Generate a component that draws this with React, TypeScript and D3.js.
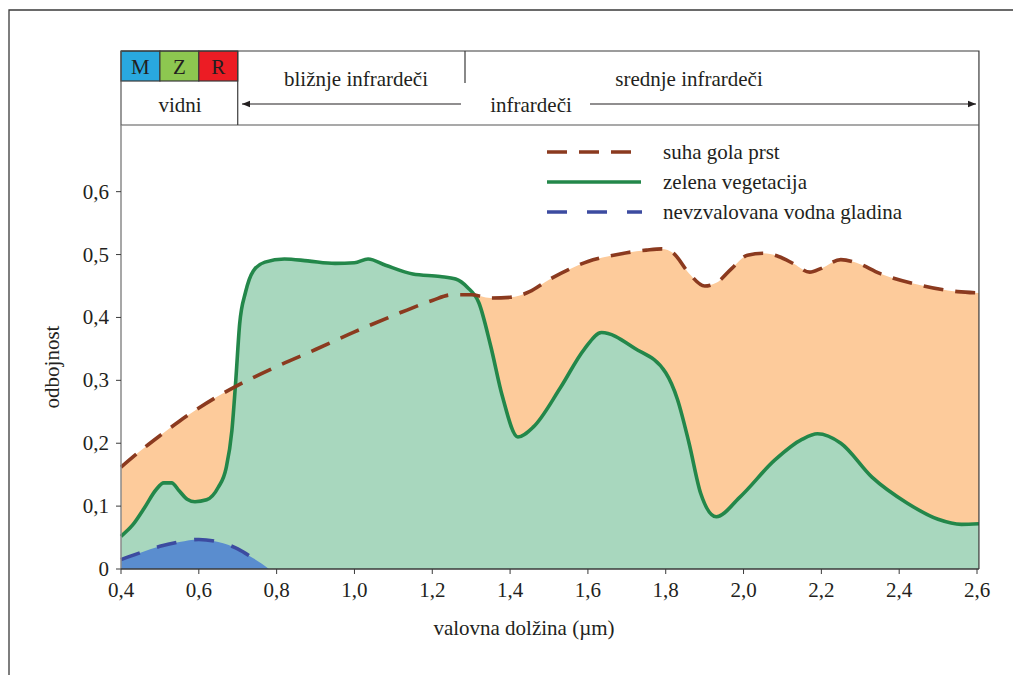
import React from "react";
import * as d3 from "d3";

// ---- data ----
const soilX = [0.4, 0.45, 0.5, 0.55, 0.6, 0.65, 0.7, 0.8, 0.9, 1.0, 1.1, 1.2, 1.25, 1.3, 1.35, 1.4, 1.45, 1.5, 1.55, 1.6, 1.65, 1.7, 1.75, 1.79, 1.82, 1.86, 1.9, 1.93, 1.97, 2.01, 2.05, 2.09, 2.13, 2.17, 2.2, 2.25, 2.29, 2.35, 2.45, 2.55, 2.605];
const soilY = [0.162, 0.188, 0.212, 0.235, 0.256, 0.275, 0.292, 0.322, 0.349, 0.377, 0.403, 0.427, 0.436, 0.436, 0.431, 0.432, 0.441, 0.46, 0.476, 0.489, 0.497, 0.503, 0.507, 0.509, 0.502, 0.47, 0.45, 0.455, 0.478, 0.499, 0.502, 0.497, 0.485, 0.472, 0.478, 0.492, 0.487, 0.47, 0.452, 0.441, 0.439];

const vegX = [0.4, 0.43, 0.46, 0.49, 0.51, 0.53, 0.55, 0.57, 0.59, 0.62, 0.65, 0.67, 0.685, 0.695, 0.705, 0.72, 0.74, 0.77, 0.82, 0.88, 0.95, 1.0, 1.035, 1.08, 1.15, 1.22, 1.26, 1.29, 1.32, 1.35, 1.38, 1.42, 1.46, 1.53, 1.59, 1.635, 1.72, 1.8, 1.83, 1.86, 1.89, 1.93, 1.99, 2.08, 2.15, 2.19, 2.25, 2.33, 2.42, 2.5, 2.56, 2.605];
const vegY = [0.052, 0.07, 0.097, 0.126, 0.137, 0.137, 0.124, 0.111, 0.107, 0.11, 0.13, 0.16, 0.22, 0.3, 0.39, 0.44, 0.474, 0.488, 0.493, 0.49, 0.486, 0.487, 0.493, 0.483, 0.469, 0.465, 0.461, 0.448, 0.423, 0.355, 0.275, 0.21, 0.226, 0.289, 0.349, 0.376, 0.351, 0.312, 0.27, 0.2, 0.12, 0.083, 0.114, 0.173, 0.206, 0.215, 0.2, 0.146, 0.105, 0.079, 0.071, 0.072];

const waterX = [0.4, 0.45, 0.5, 0.55, 0.6, 0.65, 0.7, 0.74, 0.76, 0.78];
const waterY = [0.015, 0.026, 0.036, 0.043, 0.047, 0.043, 0.032, 0.017, 0.009, 0.0];

const xTicks = [0.4, 0.6, 0.8, 1.0, 1.2, 1.4, 1.6, 1.8, 2.0, 2.2, 2.4, 2.6];
const yTicks = [0, 0.1, 0.2, 0.3, 0.4, 0.5, 0.6];

const bandCells = ["M", "Z", "R"];
const bandColors = ["#29a8df", "#8dc750", "#ec1c24"];
const bandRanges = [0.4, 0.5, 0.6, 0.7];

const legendLabels = ["suha gola prst", "zelena vegetacija", "nevzvalovana vodna gladina"];

const FONT = "'Liberation Serif', 'DejaVu Serif', serif";
const TXT = "#231f20";
const FS = 21;

export default function App() {
  const left = 121, right = 977, top = 125, bottom = 569;
  const x = d3.scaleLinear().domain([0.4, 2.6]).range([left, right]);
  const y = d3.scaleLinear().domain([0, 0.706]).range([bottom, top]);
  const boxRight = x(2.605);

  const soil = soilX.map((v, i) => [v, soilY[i]] as [number, number]);
  const veg = vegX.map((v, i) => [v, vegY[i]] as [number, number]);
  const water = waterX.map((v, i) => [v, waterY[i]] as [number, number]);

  const area = d3.area<[number, number]>().x(d => x(d[0])).y0(y(0)).y1(d => y(d[1])).curve(d3.curveMonotoneX);
  const line = d3.line<[number, number]>().x(d => x(d[0])).y(d => y(d[1])).curve(d3.curveMonotoneX);

  const hTop = 51, hMid = 81, hBot = 125;
  const fmt = (v: number) => (v === 0 ? "0" : v.toFixed(1).replace(".", ","));

  return (
    <svg width={1013} height={675} style={{ position: "absolute", left: 0, top: 0, display: "block" }} fontFamily={FONT}>
      <defs>
        <marker id="ah" viewBox="0 0 10 10" refX="10" refY="5" markerWidth="8" markerHeight="8" markerUnits="userSpaceOnUse" orient="auto-start-reverse">
          <path d="M0,1 L10,5 L0,9 z" fill="#231f20" />
        </marker>
      </defs>
      {/* outer frame */}
      <path d="M9,675 L9,10 L1013,10" fill="none" stroke="#3a3a3a" strokeWidth={1.3} />

      {/* areas */}
      <path d={area(soil) || ""} fill="#fdcb9b" />
      <path d={area(veg) || ""} fill="#a8d7be" />
      <path d={area(water) || ""} fill="#5a8dcf" />

      {/* lines */}
      <path d={line(veg) || ""} fill="none" stroke="#23874a" strokeWidth={3.6} strokeLinejoin="round" />
      <path d={line(soil) || ""} fill="none" stroke="#8b3a1f" strokeWidth={3.6} strokeDasharray="20 12" />
      <path d={line(water.filter(d => d[0] <= 0.76)) || ""} fill="none" stroke="#3c4ba0" strokeWidth={3.6} strokeDasharray="20 18" />

      {/* header box */}
      {bandCells.map((c, i) => (
        <g key={c}>
          <rect x={x(bandRanges[i])} y={hTop} width={x(bandRanges[i + 1]) - x(bandRanges[i])} height={hMid - hTop} fill={bandColors[i]} stroke="#3a3a3a" strokeWidth={1.2} />
          <text x={(x(bandRanges[i]) + x(bandRanges[i + 1])) / 2} y={74} textAnchor="middle" fontSize={FS} fill={TXT}>{c}</text>
        </g>
      ))}
      <path d={`M${left},${hTop} L${boxRight},${hTop} L${boxRight},${bottom}`} fill="none" stroke="#3a3a3a" strokeWidth={1.2} />
      <path d={`M${left},${hTop} L${left},${hBot} L${boxRight},${hBot}`} fill="none" stroke="#555" strokeWidth={1.2} />
      <line x1={x(0.7)} x2={x(0.7)} y1={hTop} y2={hBot} stroke="#3a3a3a" strokeWidth={1.2} />
      <line x1={465} x2={465} y1={hTop} y2={83} stroke="#3a3a3a" strokeWidth={1.2} />
      <text x={180} y={112} textAnchor="middle" fontSize={FS} fill={TXT}>vidni</text>
      <text x={356} y={86} textAnchor="middle" fontSize={FS} fill={TXT}>bližnje infrardeči</text>
      <text x={689} y={86} textAnchor="middle" fontSize={FS} fill={TXT}>srednje infrardeči</text>
      <text x={531} y={112} textAnchor="middle" fontSize={FS} fill={TXT}>infrardeči</text>
      <line x1={461} x2={242} y1={104} y2={104} stroke="#231f20" strokeWidth={1.2} markerEnd="url(#ah)" />
      <line x1={590} x2={976} y1={104} y2={104} stroke="#231f20" strokeWidth={1.2} markerEnd="url(#ah)" />

      {/* axes */}
      <line x1={left} x2={left} y1={hBot} y2={bottom} stroke="#8a8a8a" strokeWidth={1.5} />
      <line x1={left} x2={boxRight} y1={bottom} y2={bottom} stroke="#3a3a3a" strokeWidth={1.3} />
      {xTicks.map(t => (
        <g key={"x" + t}>
          <line x1={x(t)} x2={x(t)} y1={bottom} y2={bottom + 5} stroke="#3a3a3a" strokeWidth={1} />
          <text x={x(t)} y={bottom + 28} textAnchor="middle" fontSize={FS} fill={TXT}>{fmt(t)}</text>
        </g>
      ))}
      {yTicks.map(t => (
        <g key={"y" + t}>
          <line x1={left - 5} x2={left} y1={y(t)} y2={y(t)} stroke="#3a3a3a" strokeWidth={1} />
          <text x={left - 12} y={y(t) + 7} textAnchor="end" fontSize={FS} fill={TXT}>{fmt(t)}</text>
        </g>
      ))}
      <text x={524} y={635} textAnchor="middle" fontSize={FS} fill={TXT}>valovna dolžina (µm)</text>
      <text transform="translate(59,367) rotate(-90)" textAnchor="middle" fontSize={FS} fill={TXT}>odbojnost</text>

      {/* legend */}
      <line x1={547} x2={633} y1={152} y2={152} stroke="#8b3a1f" strokeWidth={3.6} strokeDasharray="20 12" />
      <line x1={547} x2={641} y1={182} y2={182} stroke="#23874a" strokeWidth={3.6} />
      <line x1={547} x2={642} y1={212} y2={212} stroke="#3c4ba0" strokeWidth={3.6} strokeDasharray="20 20" />
      {legendLabels.map((l, i) => (
        <text key={l} x={663} y={159 + i * 30} fontSize={FS} fill={TXT}>{l}</text>
      ))}
    </svg>
  );
}
